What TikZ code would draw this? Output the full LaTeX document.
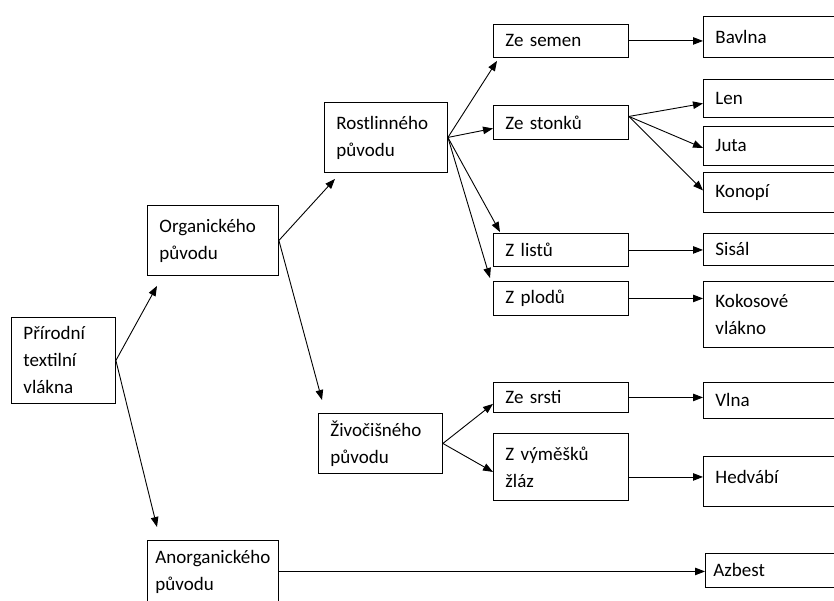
\documentclass[tikz,border=0pt]{standalone}
\usepackage{fontspec}
\setmainfont{Carlito}
\usepackage{tikz}
\usetikzlibrary{arrows.meta}

\begin{document}
\begin{tikzpicture}[x=1bp,y=-1bp,
  box/.style={draw,line width=0.9bp,anchor=north west,align=left,
    inner xsep=12bp,inner ysep=0pt,font=\fontsize{19bp}{27bp}\selectfont},
  arr/.style={-{Triangle[length=10bp,width=7.5bp]},line width=0.9bp}]
\useasboundingbox (0,0) rectangle (834,601);
\clip (0,0) rectangle (834,601);
% first and second level
\node[box,text width=80bp,minimum height=86bp] (prir) at (11,317) {Přírodní\\textilní\\vlákna};
\node[box,text width=107bp,minimum height=70bp] (org) at (147,205) {Organického\\původu};
\node[box,inner xsep=8bp,text width=115bp,minimum height=62bp] (anorg) at (147,540) {Anorganického\\původu};
\node[box,text width=99bp,minimum height=70bp] (rost) at (324,102) {Rostlinného\\původu};
\node[box,text width=100bp,minimum height=60bp] (ziv) at (318,413) {Živočišného\\původu};
% middle column
\node[box,text width=111bp,minimum height=33bp] (semen) at (493,24) {Ze semen};
\node[box,text width=111bp,minimum height=34bp] (stonku) at (493,105) {Ze stonků};
\node[box,text width=111bp,minimum height=33bp] (listu) at (493,233) {Z listů};
\node[box,text width=111bp,minimum height=34bp] (plodu) at (493,281) {Z plodů};
\node[box,text width=111bp,minimum height=30bp] (srsti) at (493,382) {Ze srsti};
\node[box,text width=111bp,minimum height=67bp] (vymesku) at (493,433) {Z výměšků\\žláz};
% right column
\node[box,text width=121bp,minimum height=41bp] (bavlna) at (703,16) {Bavlna};
\node[box,text width=121bp,minimum height=38bp] (len) at (703,79) {Len};
\node[box,text width=121bp,minimum height=39bp] (juta) at (703,126) {Juta};
\node[box,text width=121bp,minimum height=40bp] (konopi) at (703,172) {Konopí};
\node[box,text width=121bp,minimum height=32bp] (sisal) at (703,233) {Sisál};
\node[box,text width=121bp,minimum height=66bp] (kokos) at (703,281) {Kokosové\\vlákno};
\node[box,text width=121bp,minimum height=36bp] (vlna) at (703,382) {Vlna};
\node[box,text width=121bp,minimum height=50bp,text depth=10bp] (hedvabi) at (703,456) {Hedvábí};
\node[box,inner xsep=8bp,text width=127bp,minimum height=34bp] (azbest) at (705,553) {Azbest};
% connectors
\draw[arr] (prir.east) -- ([shift={(10,10)}]org.south west);
\draw[arr] (prir.east) -- ([shift={(10,-13)}]anorg.north west);
\draw[arr] (org.east) -- ([shift={(11,6)}]rost.south west);
\draw[arr] (org.east) -- ([shift={(4,-13)}]ziv.north west);
\draw[arr] (rost.east) -- ([shift={(4,3)}]semen.south west);
\draw[arr] (rost.east) -- ([shift={(0,6)}]stonku.west);
\draw[arr] (rost.east) -- ([shift={(7,-1)}]listu.north west);
\draw[arr] (rost.east) -- ([shift={(-3,-3)}]plodu.north west);
\draw[arr] ([shift={(0,-6)}]stonku.east) -- ([shift={(0,5)}]len.west);
\draw[arr] ([shift={(0,-6)}]stonku.east) -- ([shift={(0,2)}]juta.west);
\draw[arr] ([shift={(0,-6)}]stonku.east) -- ([shift={(0,-2)}]konopi.west);
\draw[arr] (semen.east) -- (semen.east -| bavlna.west);
\draw[arr] (listu.east) -- (listu.east -| sisal.west);
\draw[arr] (plodu.east) -- (plodu.east -| kokos.west);
\draw[arr] (ziv.east) -- ([shift={(0,-9)}]srsti.south west);
\draw[arr] (ziv.east) -- ([shift={(0,5)}]vymesku.west);
\draw[arr] (srsti.east) -- (srsti.east -| vlna.west);
\draw[arr] ([shift={(0,10)}]vymesku.east) -- ([shift={(0,10)}]vymesku.east -| hedvabi.west);
\draw[arr] (anorg.east) -- (anorg.east -| azbest.west);
\end{tikzpicture}
\end{document}
